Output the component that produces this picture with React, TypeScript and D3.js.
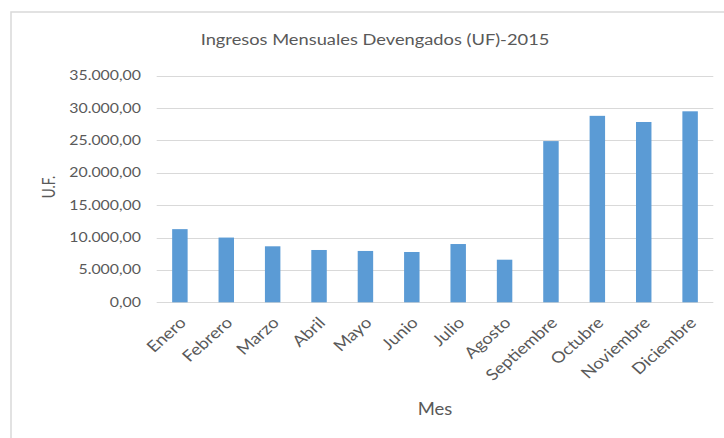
import React from "react";
import * as d3 from "d3";

const months = [
  "Enero", "Febrero", "Marzo", "Abril", "Mayo", "Junio",
  "Julio", "Agosto", "Septiembre", "Octubre", "Noviembre", "Diciembre",
];
const ingresos = [
  11300, 10000, 8650, 8080, 7930, 7770, 9000, 6580, 24900, 28800, 27850, 29500,
];
const yTicks = [0, 5000, 10000, 15000, 20000, 25000, 30000, 35000];

const title = "Ingresos Mensuales Devengados (UF)-2015";
const yTitle = "U.F.";
const xTitle = "Mes";

const width = 724;
const height = 438;
const plot = { left: 156.7, right: 713.3, top: 75.7, bottom: 302.3 };
const font = "Lato, 'Open Sans', sans-serif";
const textColor = "#595959";
// the source picture is a bit wider than tall, so text gets a horizontal stretch
const SX = 1.22;

// es-CL style: 35.000,00
const fmt = (v: number) => {
  const [int, dec] = v.toFixed(2).split(".");
  return int.replace(/\B(?=(\d{3})+(?!\d))/g, ".") + "," + dec;
};

const App: React.FC = () => {
  const x = d3
    .scaleBand<string>()
    .domain(months)
    .range([plot.left, plot.right])
    .paddingInner(2 / 3)
    .paddingOuter(1 / 3);

  const y = d3
    .scaleLinear()
    .domain([0, 35000])
    .range([plot.bottom, plot.top]);

  return (
    <svg
      width={width}
      height={height}
      style={{ position: "absolute", left: 0, top: 0, background: "#fff" }}
    >
      <rect x={0} y={0} width={width} height={height} fill="#fff" />
      {/* chart frame */}
      <path d={`M11,${height} V12 H${width}`} fill="none" stroke="#d9d9d9" strokeWidth={1.5} />

      <text
        transform={`translate(375,45) scale(${SX},1)`}
        textAnchor="middle"
        fontFamily={font}
        fontSize={15}
        fill={textColor}
      >
        {title}
      </text>

      {/* gridlines */}
      {yTicks.map((t) => (
        <line
          key={t}
          x1={plot.left}
          x2={plot.right}
          y1={Math.round(y(t)) + 0.5}
          y2={Math.round(y(t)) + 0.5}
          stroke="#d9d9d9"
          strokeWidth={1}
        />
      ))}

      {/* y tick labels */}
      {yTicks.map((t) => (
        <text
          key={t}
          transform={`translate(141,${y(t)}) scale(${SX},1)`}
          dy="0.35em"
          textAnchor="end"
          fontFamily={font}
          fontSize={13}
          fill={textColor}
        >
          {fmt(t)}
        </text>
      ))}

      {/* bars */}
      {months.map((m, i) => (
        <rect
          key={m}
          x={x(m)}
          y={y(ingresos[i])}
          width={x.bandwidth()}
          height={y(0) - y(ingresos[i])}
          fill="#5b9bd5"
        />
      ))}

      {/* x labels */}
      {months.map((m) => {
        const cx = (x(m) as number) + x.bandwidth() / 2 + 3;
        const cy = 320;
        return (
          <text
            key={m}
            transform={`translate(${cx},${cy}) scale(1.13,1) rotate(-45) scale(1.05,1)`}
            textAnchor="end"
            dy="0.35em"
            fontFamily={font}
            fontSize={15.5}
            fill={textColor}
          >
            {m}
          </text>
        );
      })}

      <text
        transform={`translate(49,187) scale(${SX},1) rotate(-90)`}
        textAnchor="middle"
        dy="0.35em"
        fontFamily={font}
        fontSize={13.5}
        fill={textColor}
      >
        {yTitle}
      </text>

      <text
        transform={`translate(435,415) scale(1.12,1)`}
        textAnchor="middle"
        fontFamily={font}
        fontSize={16.5}
        fill={textColor}
      >
        {xTitle}
      </text>
    </svg>
  );
};

export default App;
